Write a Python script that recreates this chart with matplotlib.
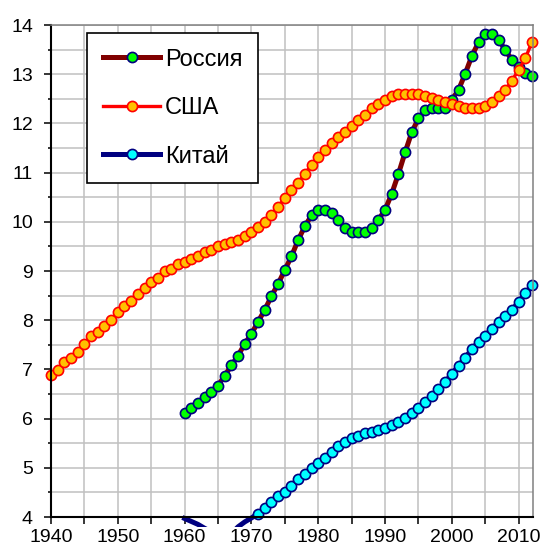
import numpy as np
from matplotlib import pyplot as plt
from matplotlib.lines import Line2D
from matplotlib.patches import Rectangle

plt.rcParams['font.family'] = ['Liberation Sans', 'DejaVu Sans']

# Data #
years_us = list(range(1940, 2013))
usa = [6.88, 6.99, 7.15, 7.23, 7.35, 7.52, 7.67, 7.76, 7.88, 8.00,
       8.16, 8.29, 8.40, 8.53, 8.65, 8.77, 8.86, 8.99, 9.05, 9.15,
       9.19, 9.24, 9.31, 9.39, 9.43, 9.50, 9.55, 9.58, 9.63, 9.71,
       9.80, 9.89, 10.00, 10.14, 10.31, 10.48, 10.65, 10.79, 10.98, 11.15,
       11.31, 11.46, 11.60, 11.72, 11.83, 11.95, 12.07, 12.18, 12.31, 12.39,
       12.48, 12.56, 12.60, 12.60, 12.60, 12.60, 12.56, 12.51, 12.48, 12.44,
       12.40, 12.35, 12.32, 12.31, 12.31, 12.35, 12.44, 12.56, 12.68, 12.87,
       13.09, 13.32, 13.66]

years_60 = list(range(1960, 2013))
russia = [6.11, 6.22, 6.32, 6.43, 6.55, 6.67, 6.87, 7.08, 7.28, 7.52,
          7.72, 7.97, 8.21, 8.49, 8.74, 9.02, 9.30, 9.63, 9.91, 10.13,
          10.24, 10.25, 10.17, 10.04, 9.88, 9.80, 9.80, 9.80, 9.87, 10.04,
          10.24, 10.57, 10.97, 11.41, 11.82, 12.10, 12.28, 12.31, 12.31, 12.31,
          12.48, 12.68, 13.01, 13.37, 13.65, 13.82, 13.82, 13.70, 13.49, 13.29,
          13.15, 13.02, 12.96]

china = [3.97, 3.91, 3.85, 3.77, 3.70, 3.64, 3.60, 3.66, 3.80, 3.90,
         3.98, 4.07, 4.18, 4.30, 4.43, 4.51, 4.64, 4.77, 4.88, 5.00,
         5.10, 5.20, 5.33, 5.44, 5.53, 5.61, 5.65, 5.70, 5.72, 5.76,
         5.80, 5.86, 5.93, 6.02, 6.12, 6.22, 6.34, 6.46, 6.60, 6.74,
         6.91, 7.07, 7.24, 7.41, 7.56, 7.68, 7.83, 7.96, 8.09, 8.21,
         8.37, 8.55, 8.71]

names = ['Россия', 'США', 'Китай']

fig = plt.figure(figsize=(5.44, 5.52), dpi=100)
ax = fig.add_axes([51/544, 1-517/552, 482/544, 492/552])

ms = 7.3
h_ru, = ax.plot(years_60, russia, '-o', color='#800000', lw=3.6,
                mfc='#00ff00', mec='#000080', mew=1.2, ms=ms, clip_on=False)
h_us, = ax.plot(years_us, usa, '-o', color='#ff0000', lw=2.4,
                mfc='#ffc000', mec='#ff0000', mew=1.2, ms=ms, clip_on=False)

# China line spills a little below the x axis, markers only above 4
cn_line, = ax.plot(years_60, china, '-', color='#000080', lw=3.6)
cn_line.set_clip_path(Rectangle((0, -0.0205), 1, 1.0205, transform=ax.transAxes))
cx = [y for y, v in zip(years_60, china) if v >= 4]
cy = [v for v in china if v >= 4]
ax.plot(cx, cy, 'o', mfc='#00ffff', mec='#000080', mew=1.2, ms=ms, clip_on=False)
h_cn = Line2D([], [], color='#000080', lw=3.6, marker='o',
              mfc='#00ffff', mec='#000080', mew=1.2, ms=ms)

ax.set_xlim(1940, 2012.15)
ax.set_ylim(4, 14)
ax.set_xticks(np.arange(1940, 2011, 10))
ax.set_xticks(np.arange(1945, 2011, 10), minor=True)
ax.set_yticks(np.arange(4, 15, 1))
ax.set_yticks(np.arange(4.5, 14, 1), minor=True)
ax.grid(True, which='both', color='#c0c0c0', lw=1.1)
ax.set_axisbelow(True)

for s in ['left', 'bottom']:
    ax.spines[s].set_color('black')
    ax.spines[s].set_linewidth(1.5)
for s in ['top', 'right']:
    ax.spines[s].set_color('#808080')
    ax.spines[s].set_linewidth(1.1)

ax.tick_params(axis='x', which='both', direction='out', length=5, width=1.1,
               labelsize=14, pad=3.5)
ax.tick_params(axis='y', which='major', direction='out', length=5, width=1.1,
               labelsize=14, pad=8)
ax.tick_params(axis='y', which='minor', direction='out', length=2.5, width=1.1)

leg = ax.legend(handles=[h_ru, h_us, h_cn], labels=names,
                loc='upper left', bbox_to_anchor=(36.3/482, 1-8.3/492),
                borderaxespad=0, fontsize=17, numpoints=1,
                handlelength=2.45, handletextpad=0.2, labelspacing=1.12,
                borderpad=0.65, fancybox=False, framealpha=1,
                edgecolor='black')
leg.get_frame().set_linewidth(1.2)
leg.set_zorder(5)

plt.savefig('out.png', dpi=100)
